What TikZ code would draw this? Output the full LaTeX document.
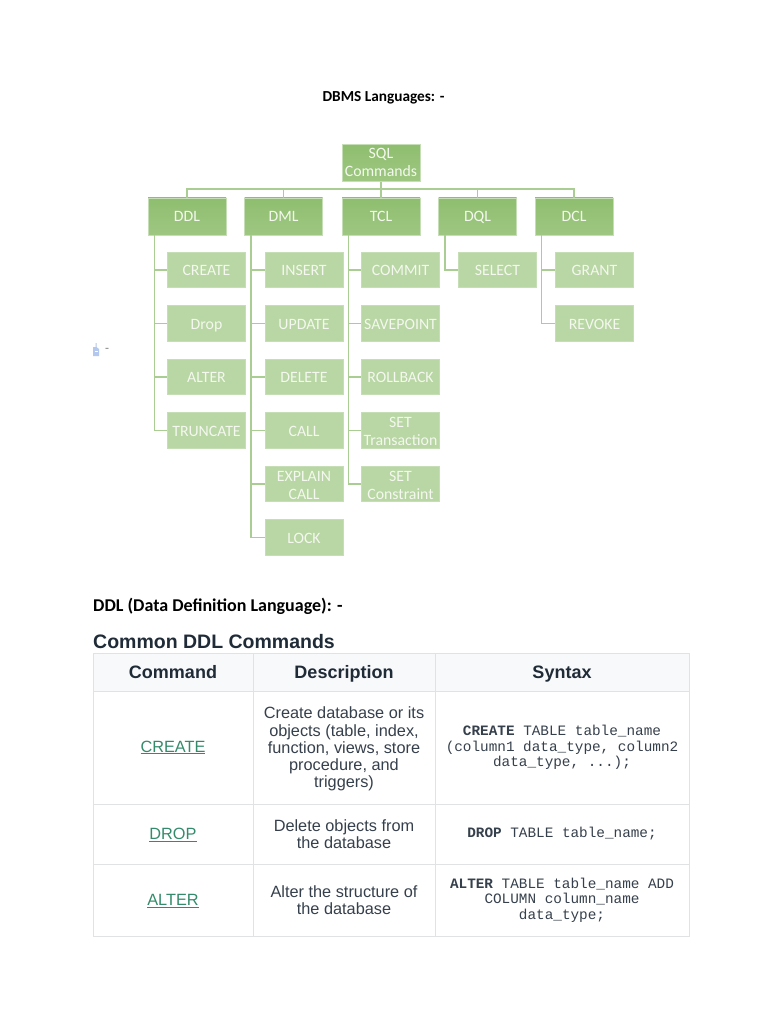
\documentclass[tikz,border=0pt]{standalone}
\usepackage{fontspec}
\setmainfont{Liberation Sans}
\setmonofont{Liberation Mono}
\newfontfamily\carlito{Carlito}
\definecolor{rootTop}{HTML}{8FBE6F}
\definecolor{rootBot}{HTML}{9EC782}
\definecolor{childFill}{HTML}{B9D6A5}
\definecolor{linkLine}{HTML}{A9CD93}
\definecolor{boxEdge}{HTML}{C6DEB6}
\definecolor{boxText}{HTML}{F4F8EE}
\definecolor{cellLine}{HTML}{E0E2E4}
\definecolor{headFill}{HTML}{F8F9FA}
\definecolor{inkDark}{HTML}{202B38}
\definecolor{inkBody}{HTML}{36404C}
\definecolor{linkGreen}{HTML}{348B6B}
\definecolor{iconBlue}{HTML}{B4C7EE}
\tikzset{
  x=1pt,y=-1pt,
  orgbox/.style={inner sep=0pt,align=center,text=boxText,draw=boxEdge,line width=.7pt,
    font=\carlito\fontsize{15.8}{18}\selectfont},
  topbox/.style={orgbox,top color=rootTop,bottom color=rootBot,minimum width=78pt,minimum height=37pt},
  subbox/.style={orgbox,fill=childFill,minimum width=78pt,minimum height=35.5pt,
    execute at begin node={\rule{0pt}{11.5pt}}},
  twoline/.style={text height=31pt},
  link/.style={draw=linkLine,line width=1.4pt},
  doctext/.style={inner sep=0pt,anchor=west,text=black,font=\carlito\bfseries\fontsize{18}{20}\selectfont},
  cell/.style={draw=cellLine,line width=.8pt,inner sep=0pt,align=center,text=inkBody,
    font=\fontsize{16.3}{17.25}\selectfont},
  headcell/.style={cell,fill=headFill,text=inkDark,text height=14pt,text depth=1pt,
    font=\bfseries\fontsize{18}{20}\selectfont},
  linkcell/.style={cell,text=linkGreen},
  codecell/.style={cell,font=\ttfamily\fontsize{14.35}{15.3}\selectfont},
  nudged/.style={execute at begin node={\rule{0pt}{13.5pt}}},
}
\begin{document}
\begin{tikzpicture}
\useasboundingbox[fill=white] (0,0) rectangle (768,1024);

\node[doctext,anchor=center,font=\carlito\bfseries\fontsize{15.3}{18}\selectfont] (title) at (383.5,97.5) {DBMS Languages: -};

\node[topbox,text depth=1.2pt] (sql) at (381,163) {SQL\\Commands};
\node[topbox] (ddl) at (187,216.5) {DDL};
\node[topbox] (dml) at (283.5,216.5) {DML};
\node[topbox] (tcl) at (381,216.5) {TCL};
\node[topbox,text depth=0pt] (dql) at (477.5,216.5) {DQL};
\node[topbox] (dcl) at (574,216.5) {DCL};

\node[subbox] (create) at (206.5,270) {CREATE};
\node[subbox,text depth=0pt] (drop) at (206.5,323.5) {Drop};
\node[subbox] (alter) at (206.5,377) {ALTER};
\node[subbox] (truncate) at (206.5,430.5) {TRUNCATE};

\node[subbox] (insert) at (304,270) {INSERT};
\node[subbox,text depth=0pt] (update) at (304,323.5) {UPDATE};
\node[subbox] (delete) at (304,377) {DELETE};
\node[subbox] (call) at (304,430.5) {CALL};
\node[subbox,twoline] (explain) at (304,484) {EXPLAIN\\CALL};
\node[subbox] (lock) at (304,537.5) {LOCK};

\node[subbox] (commit) at (400.5,270) {COMMIT};
\node[subbox] (savepoint) at (400.5,323.5) {SAVEPOINT};
\node[subbox] (rollback) at (400.5,377) {ROLLBACK};
\node[subbox,twoline] (settrans) at (400.5,430.5) {SET\\Transaction};
\node[subbox,twoline] (setcons) at (400.5,484) {SET\\Constraint};

\node[subbox] (select) at (497.5,270) {SELECT};

\node[subbox] (grant) at (594.5,270) {GRANT};
\node[subbox] (revoke) at (594.5,323.5) {REVOKE};

\coordinate (bus) at (381,189);
\draw[link] (sql.south) -- (tcl.north);
\draw[link] (bus) -| (ddl.north);
\draw[link] (bus) -| (dml.north);
\draw[link] (bus) -| (dql.north);
\draw[link] (bus) -| (dcl.north);

\foreach \p/\c in {ddl/create,ddl/drop,ddl/alter,ddl/truncate,
  dml/insert,dml/update,dml/delete,dml/call,dml/explain,dml/lock,
  tcl/commit,tcl/savepoint,tcl/rollback,tcl/settrans,tcl/setcons,
  dql/select,dcl/grant,dcl/revoke}{
  \draw[link] ([xshift=7pt]\p.south west) |- (\c.west);
}

% small anchor icon and dash
\fill[iconBlue] (93,347) -- (95.5,347) -- (95.5,343) -- (96.5,343) -- (96.5,347) -- (99,349) -- (99,356) -- (93,356) -- cycle;
\fill[white] (94.5,351) rectangle (97.5,352);
\node[inner sep=0pt,text=gray,font=\carlito\fontsize{13}{14}\selectfont] (dash) at (107,350) {-};

\node[doctext] (ddlhead) at (93,606.5) {DDL (Data Definition Language): -};
\node[inner sep=0pt,anchor=west,text=inkDark,font=\bfseries\fontsize{19.5}{22}\selectfont] (tabhead) at (93,642) {Common DDL Commands};

% table
\node[headcell,minimum width=160pt,minimum height=38pt] (h1) at (173,672) {Command};
\node[headcell,minimum width=182pt,minimum height=38pt] (h2) at (344,672) {Description};
\node[headcell,minimum width=254pt,minimum height=38pt] (h3) at (562,672) {Syntax};

\node[linkcell,minimum width=160pt,minimum height=113pt] (c1) at (173,747.5) {\underline{CREATE}};
\node[cell,text depth=0pt,minimum width=182pt,minimum height=113pt] (d1) at (344,747.5) {Create database or its\\objects (table, index,\\function, views, store\\procedure, and\\triggers)};
\node[codecell,minimum width=254pt,minimum height=113pt] (s1) at (562,747.5) {\textbf{CREATE} TABLE table\_name\\(column1 data\_type, column2\\data\_type, ...);};

\node[linkcell,nudged,minimum width=160pt,minimum height=60pt] (c2) at (173,834) {\underline{DROP}};
\node[cell,minimum width=182pt,minimum height=60pt] (d2) at (344,834) {Delete objects from\\the database};
\node[codecell,minimum width=254pt,minimum height=60pt] (s2) at (562,834) {\textbf{DROP} TABLE table\_name;};

\node[linkcell,nudged,minimum width=160pt,minimum height=72pt] (c3) at (173,900) {\underline{ALTER}};
\node[cell,minimum width=182pt,minimum height=72pt] (d3) at (344,900) {Alter the structure of\\the database};
\node[codecell,minimum width=254pt,minimum height=72pt] (s3) at (562,900) {\textbf{ALTER} TABLE table\_name ADD\\COLUMN column\_name\\data\_type;};
\end{tikzpicture}
\end{document}
